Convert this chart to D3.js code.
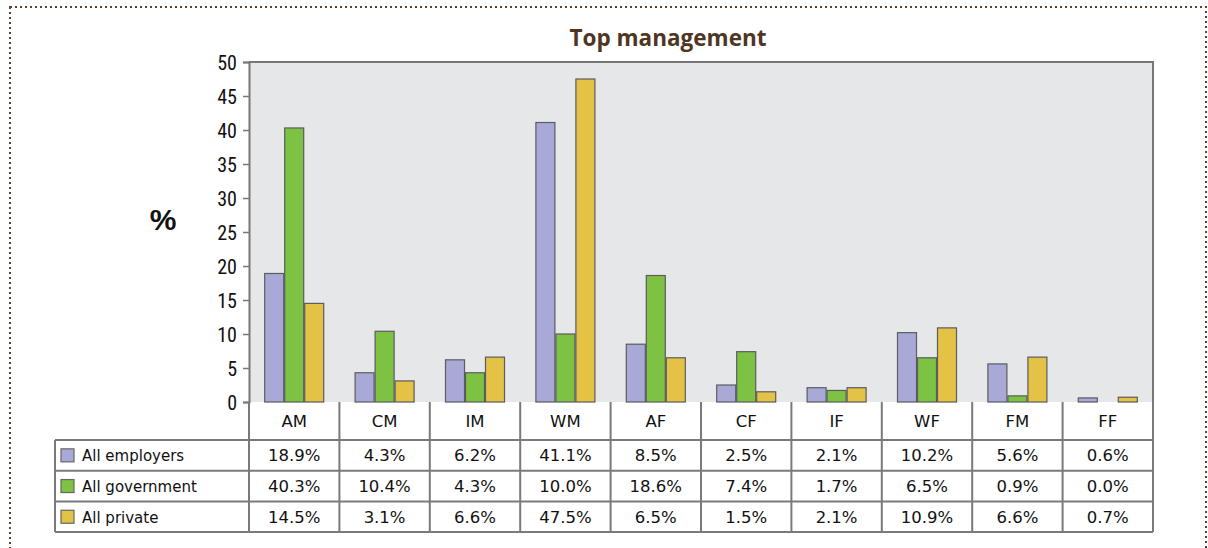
<!DOCTYPE html>
<html>
<head>
<meta charset="utf-8">
<script src="https://cdnjs.cloudflare.com/ajax/libs/d3/7.8.5/d3.min.js"></script>
<style>
  body { margin: 0; background: #fff; }
</style>
</head>
<body>
<div id="chart"></div>
<script>
// data
var categories = ["AM", "CM", "IM", "WM", "AF", "CF", "IF", "WF", "FM", "FF"];
var seriesNames = ["All employers", "All government", "All private"];
var employers = [18.9, 4.3, 6.2, 41.1, 8.5, 2.5, 2.1, 10.2, 5.6, 0.6];
var government = [40.3, 10.4, 4.3, 10.0, 18.6, 7.4, 1.7, 6.5, 0.9, 0.0];
var priv = [14.5, 3.1, 6.6, 47.5, 6.5, 1.5, 2.1, 10.9, 6.6, 0.7];
var yTicks = [0, 5, 10, 15, 20, 25, 30, 35, 40, 45, 50];
var colors = ["#a9a9d8", "#7dc242", "#e3c245"];

var series = [employers, government, priv];

var W = 1208, H = 548;
var margin = {left: 249, right: 55, top: 62, bottom: 146};
var plotW = W - margin.left - margin.right;
var plotH = H - margin.top - margin.bottom;

var svg = d3.select("#chart").append("svg")
    .attr("width", W)
    .attr("height", H);

// dotted frame
svg.append("rect")
    .attr("x", 10).attr("y", 7)
    .attr("width", 1196).attr("height", 560)
    .attr("fill", "none")
    .attr("stroke", "#5a4332")
    .attr("stroke-width", 2)
    .attr("stroke-dasharray", "2,3");

svg.append("text")
    .attr("x", 668).attr("y", 46)
    .attr("text-anchor", "middle")
    .style("font-family", "'Open Sans', sans-serif")
    .style("font-weight", "bold")
    .style("font-size", "22.5px")
    .style("fill", "#4e3524")
    .text("Top management");

var x = d3.scaleBand()
    .domain(categories)
    .range([0, plotW]);

var y = d3.scaleLinear()
    .domain([0, 50])
    .range([plotH, 0]);

var xs = d3.scaleBand()
    .domain(d3.range(series.length))
    .range([0, x.bandwidth()])
    .paddingOuter(0.76);

var g = svg.append("g")
    .attr("transform", "translate(" + margin.left + "," + margin.top + ")");

g.append("rect")
    .attr("width", plotW).attr("height", plotH)
    .attr("fill", "#e6e7e9");

// bars
categories.forEach(function(c, i) {
    series.forEach(function(s, j) {
	var v = s[i];
	if (v <= 0) return;
	g.append("rect")
	    .attr("x", x(c) + xs(j) + 0.5)
	    .attr("y", y(v))
	    .attr("width", xs.bandwidth() - 1)
	    .attr("height", plotH - y(v))
	    .attr("fill", colors[j])
	    .attr("stroke", "#5b5b60")
	    .attr("stroke-width", 1.2);
    });
});

// frame top/right
g.append("path")
    .attr("d", "M0,0H" + plotW + "V" + plotH)
    .attr("fill", "none")
    .attr("stroke", "#77777a")
    .attr("stroke-width", 2);

// y axis
var yAxis = g.append("g")
    .call(d3.axisLeft(y).tickValues(yTicks).tickSize(6).tickPadding(6));
yAxis.select(".domain").attr("stroke", "#77777a").attr("stroke-width", 2);
yAxis.selectAll(".tick line").attr("stroke", "#77777a").attr("stroke-width", 1.5);
yAxis.selectAll(".tick text")
    .style("font-family", "'Liberation Sans Narrow', 'Roboto Condensed', Roboto, sans-serif")
    .style("font-size", "20px")
    .attr("dy", "0.35em")
    .style("fill", "#111");

svg.append("text")
    .attr("x", 163).attr("y", 230)
    .attr("text-anchor", "middle")
    .style("font-family", "'Liberation Sans', Arial, sans-serif")
    .style("font-weight", "bold")
    .style("font-size", "30px")
    .style("fill", "#111")
    .text("%");

// data table
var rowTop = margin.top + plotH;
var catRowH = 38;
var rowH = 30.7;
var tableLeft = 55;
var tableFont = "'DejaVu Sans', Verdana, sans-serif";
var t = svg.append("g");
var lineColor = "#7a7a7c";

// category row
categories.forEach(function(c) {
    t.append("text")
	.attr("x", margin.left + x(c) + x.bandwidth() / 2)
	.attr("y", rowTop + catRowH / 2 + 6)
	.attr("text-anchor", "middle")
	.style("font-family", tableFont)
	.style("font-size", "16.5px")
	.style("fill", "#111")
	.text(c);
});

series.forEach(function(s, j) {
    var top = rowTop + catRowH + j * rowH;
    t.append("rect")
	.attr("x", 61).attr("y", top + rowH / 2 - 6.5)
	.attr("width", 13).attr("height", 13)
	.attr("fill", colors[j])
	.attr("stroke", "#666")
	.attr("stroke-width", 1.2);
    t.append("text")
	.attr("x", 82).attr("y", top + rowH / 2 + 6)
	.style("font-family", tableFont)
	.style("font-size", "15px")
	.style("fill", "#111")
	.text(seriesNames[j]);
    categories.forEach(function(c, i) {
	t.append("text")
	    .attr("x", margin.left + x(c) + x.bandwidth() / 2)
	    .attr("y", top + rowH / 2 + 6)
	    .attr("text-anchor", "middle")
	    .style("font-family", tableFont)
	    .style("font-size", "16.5px")
	    .style("fill", "#111")
	    .text(s[i].toFixed(1) + "%");
    });
});

// grid lines
var bottom = rowTop + catRowH + series.length * rowH;
var lines = [];
for (var j = 0; j <= series.length; j++) {
    var yy = rowTop + catRowH + j * rowH;
    lines.push([tableLeft, yy, margin.left + plotW, yy]);
}
lines.push([tableLeft, rowTop + catRowH, tableLeft, bottom]);
categories.forEach(function(c) {
    lines.push([margin.left + x(c), rowTop, margin.left + x(c), bottom]);
});
lines.push([margin.left + plotW, rowTop, margin.left + plotW, bottom]);

t.selectAll("line.grid").data(lines).enter().append("line")
    .attr("class", "grid")
    .attr("x1", function(d) { return d[0]; })
    .attr("y1", function(d) { return d[1]; })
    .attr("x2", function(d) { return d[2]; })
    .attr("y2", function(d) { return d[3]; })
    .attr("stroke", lineColor)
    .attr("stroke-width", 2);
</script>
</body>
</html>
